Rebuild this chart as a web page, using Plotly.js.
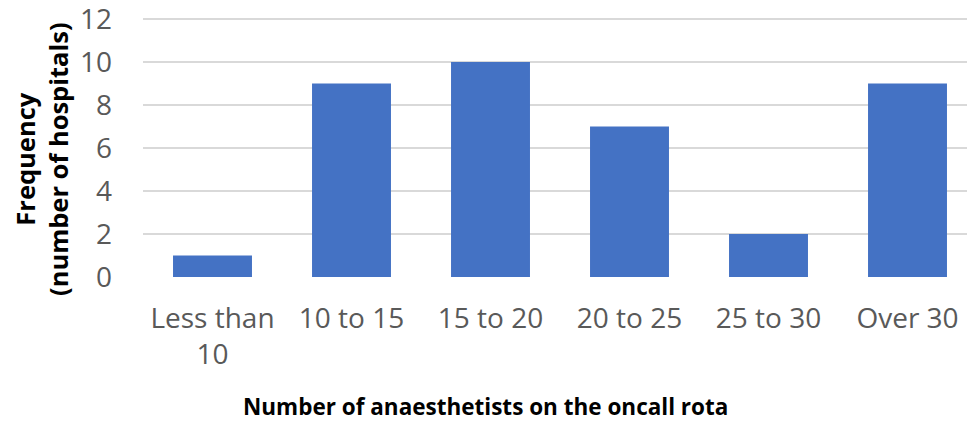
<!DOCTYPE html>
<html>
<head>
<meta charset="utf-8">
<script src="https://cdn.plot.ly/plotly-3.0.1.min.js"></script>
<style>html,body{margin:0;padding:0;background:#fff;overflow:hidden}</style>
</head>
<body>
<div id="chart" style="width:967px;height:423px"></div>
<script>
const categories = ["Less than<br>10", "10 to 15", "15 to 20", "20 to 25", "25 to 30", "Over 30"];
const frequency = [1, 9, 10, 7, 2, 9];
const yTicks = [0, 2, 4, 6, 8, 10, 12];
const xTitle = "Number of anaesthetists on the oncall rota";
const yTitle = "Frequency<br>(number of hospitals)";

const trace = {
  type: "bar",
  x: categories,
  y: frequency,
  marker: {color: "#4472C4"},
  hoverinfo: "x+y"
};

const layout = {
  width: 967,
  height: 423,
  margin: {l: 143, r: 0, t: 18, b: 146, pad: 0},
  paper_bgcolor: "#ffffff",
  plot_bgcolor: "#ffffff",
  bargap: 0.432,
  showlegend: false,
  font: {family: "Open Sans, sans-serif", color: "#595959"},
  xaxis: {
    type: "category",
    range: [-0.5, 5.428],
    showgrid: false,
    zeroline: false,
    showline: false,
    ticks: "",
    tickfont: {size: 28, color: "#595959"},
    ticklabelstandoff: 22,
    ticklabeloverflow: "allow",
    automargin: false
  },
  yaxis: {
    range: [0, 12.05],
    tickvals: yTicks,
    showgrid: true,
    gridcolor: "#d9d9d9",
    gridwidth: 1.5,
    zeroline: false,
    showline: false,
    ticks: "",
    tickfont: {size: 28, color: "#595959"},
    ticklabelstandoff: 30,
    ticklabeloverflow: "allow",
    automargin: false
  },
  annotations: [{
    text: "<b>" + xTitle + "</b>",
    xref: "paper", yref: "paper",
    x: (485 - 143) / 824, y: -0.5,
    xanchor: "center", yanchor: "middle",
    showarrow: false,
    font: {size: 22.5, color: "#000000"}
  }, {
    text: "<b>" + yTitle + "</b>",
    xref: "paper", yref: "paper",
    x: (41 - 143) / 824, y: (277 - 159) / 259,
    xanchor: "center", yanchor: "middle",
    textangle: -90,
    showarrow: false,
    font: {size: 25.5, color: "#000000"}
  }]
};

Plotly.newPlot("chart", [trace], layout, {displayModeBar: false, staticPlot: true});
</script>
</body>
</html>
